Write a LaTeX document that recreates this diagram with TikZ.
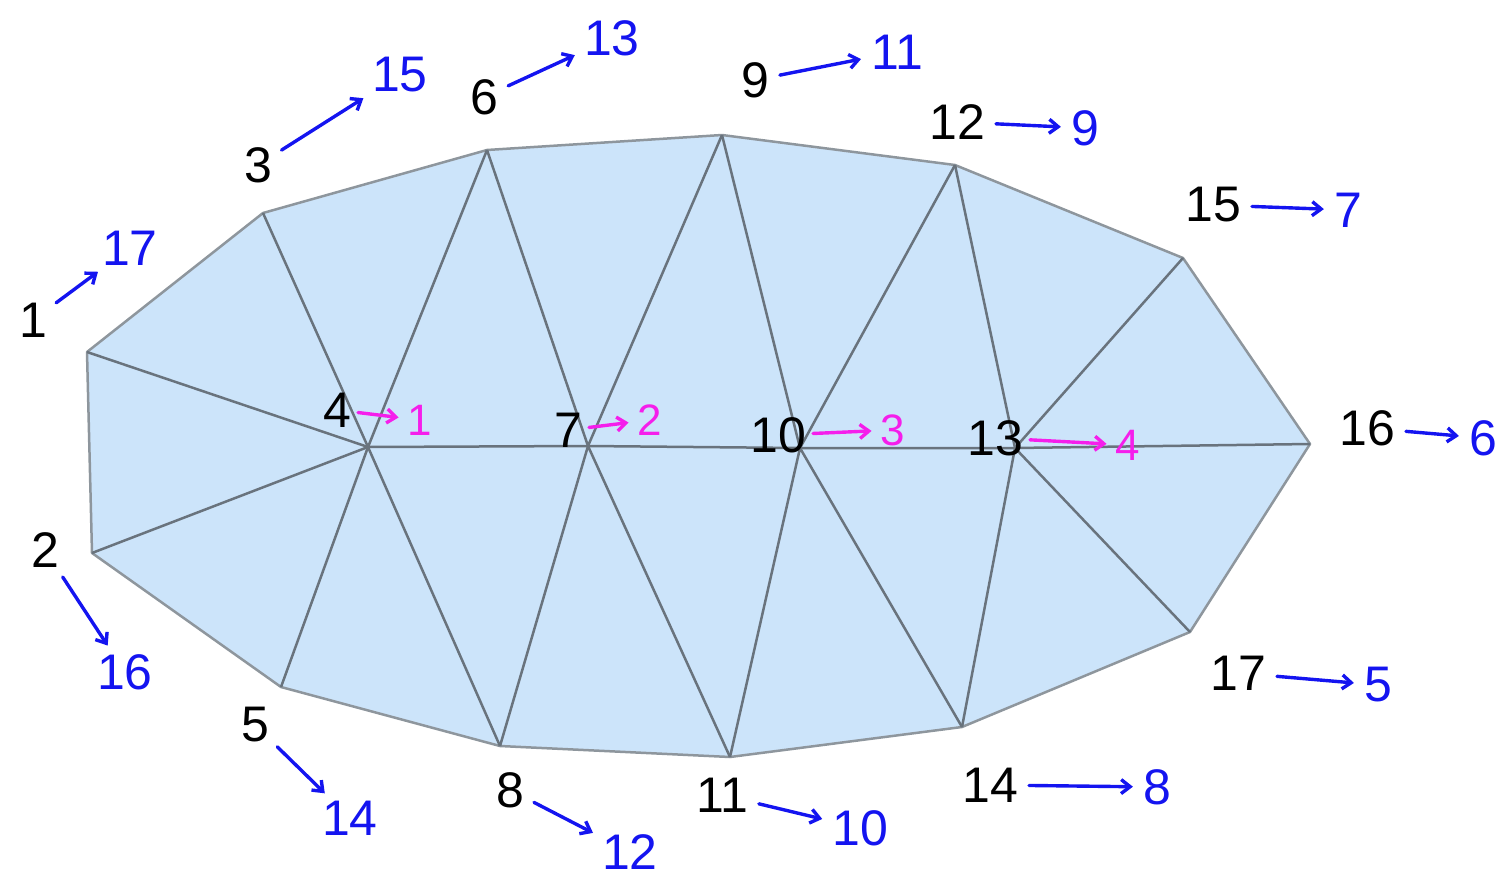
\documentclass[tikz,border=0pt]{standalone}
\usepackage{fontspec}
\setmainfont{Liberation Sans}
\usetikzlibrary{arrows.meta}
\definecolor{meshFill}{RGB}{204,228,250}
\definecolor{meshEdge}{RGB}{105,115,125}
\definecolor{newBlue}{RGB}{20,20,240}
\definecolor{newPink}{RGB}{245,30,235}

\begin{document}
\begin{tikzpicture}[x=1pt, y=-1pt,
edge/.style={draw=meshEdge, line width=2.5pt, line join=round},
old/.style={font=\fontsize{50}{50}\selectfont, inner sep=1pt},
new/.style={old, text=newBlue},
newin/.style={font=\fontsize{44}{44}\selectfont, text=newPink, inner sep=1pt},
map/.style={-{Straight Barb[length=9pt,width=14pt]}, line width=3.4pt,
color=newBlue, line cap=round, shorten <=10pt, shorten >=9pt},
mapin/.style={map, color=newPink, shorten <=6pt, shorten >=8pt}]
\useasboundingbox (0,0) rectangle (1505,878);
% mesh vertices
\coordinate (v1)  at (87,352);
\coordinate (v2)  at (92,553);
\coordinate (v3)  at (263,213);
\coordinate (v4)  at (368,447);
\coordinate (v5)  at (281,687);
\coordinate (v6)  at (487,150);
\coordinate (v7)  at (588,446);
\coordinate (v8)  at (500,746);
\coordinate (v9)  at (722,135);
\coordinate (v10) at (800,448);
\coordinate (v11) at (730,757);
\coordinate (v12) at (955,165);
\coordinate (v13) at (1015,448);
\coordinate (v14) at (962,727);
\coordinate (v15) at (1183,258);
\coordinate (v16) at (1310,444);
\coordinate (v17) at (1190,632);
% outline
\fill[meshFill] (v1) -- (v3) -- (v6) -- (v9) -- (v12) -- (v15) -- (v16)
  -- (v17) -- (v14) -- (v11) -- (v8) -- (v5) -- (v2) -- cycle;
\draw[edge, draw=meshEdge!75] (v1) -- (v3) -- (v6) -- (v9) -- (v12) -- (v15) -- (v16)
  -- (v17) -- (v14) -- (v11) -- (v8) -- (v5) -- (v2) -- cycle;
% inner edges
\draw[edge] (v4) -- (v7) -- (v10) -- (v13) -- (v16);
\draw[edge] (v1) -- (v4) -- (v2);
\draw[edge] (v3) -- (v4) -- (v5);
\draw[edge] (v6) -- (v4) -- (v8);
\draw[edge] (v6) -- (v7) -- (v9);
\draw[edge] (v8) -- (v7) -- (v11);
\draw[edge] (v9) -- (v10) -- (v12);
\draw[edge] (v11) -- (v10) -- (v14);
\draw[edge] (v12) -- (v13) -- (v15);
\draw[edge] (v14) -- (v13) -- (v17);
% old numbers
\node[old] (o1)  at (33,320)   {1};
\node[old] (o2)  at (45,550)   {2};
\node[old] (o3)  at (258,165)  {3};
\node[old] (o4)  at (337,410)  {4};
\node[old] (o5)  at (255,725)  {5};
\node[old] (o6)  at (484,97)   {6};
\node[old] (o7)  at (568,430)  {7};
\node[old] (o8)  at (510,790)  {8};
\node[old] (o9)  at (755,80)   {9};
\node[old] (o10) at (778,435)  {10};
\node[old] (o11) at (722,795)  {11};
\node[old] (o12) at (957,122)  {12};
\node[old] (o13) at (995,438)  {13};
\node[old] (o14) at (990,785)  {14};
\node[old] (o15) at (1213,205) {15};
\node[old] (o16) at (1367,428) {16};
\node[old] (o17) at (1238,673) {17};
% new numbers
\node[new] (n1)  at (130,248)  {17};
\node[new] (n2)  at (125,672)  {16};
\node[new] (n3)  at (400,75)   {15};
\node[new] (n5)  at (350,818)  {14};
\node[new] (n6)  at (612,38)   {13};
\node[new] (n8)  at (630,852)  {12};
\node[new] (n9)  at (897,52)   {11};
\node[new] (n11) at (860,828)  {10};
\node[new] (n12) at (1085,128) {9};
\node[new] (n14) at (1157,787) {8};
\node[new] (n15) at (1348,210) {7};
\node[new] (n16) at (1483,438) {6};
\node[new] (n17) at (1378,685) {5};
\node[newin] (n4)  at (420,420)  {1};
\node[newin] (n7)  at (650,420)  {2};
\node[newin] (n10) at (893,430)  {3};
\node[newin] (n13) at (1128,445) {4};
% renumbering arrows
\draw[map] (o1)  -- (n1);
\draw[map] (o2)  -- (n2);
\draw[map] (o3)  -- (n3);
\draw[map] (o5)  -- (n5);
\draw[map] (o6)  -- (n6);
\draw[map] (o8)  -- (n8);
\draw[map] (o9)  -- (n9);
\draw[map] (o11) -- (n11);
\draw[map] (o12) -- (n12);
\draw[map] (o14) -- (n14);
\draw[map] (o15) -- (n15);
\draw[map] (o16) -- (n16);
\draw[map] (o17) -- (n17);
\draw[mapin] (o4)  -- (n4);
\draw[mapin] (o7)  -- (n7);
\draw[mapin] (o10) -- (n10);
\draw[mapin] (o13) -- (n13);
\end{tikzpicture}
\end{document}
